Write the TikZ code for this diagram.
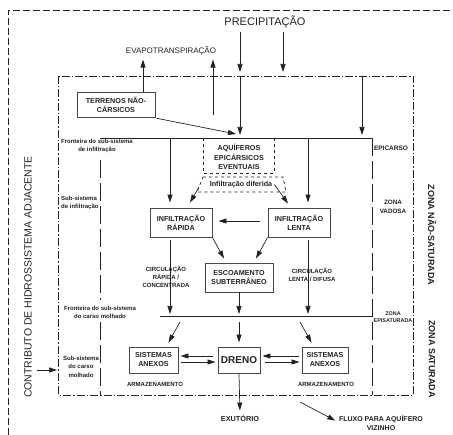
\documentclass[tikz,border=0pt]{standalone}
\usepackage{fontspec}
\setmainfont{Liberation Sans}
\usetikzlibrary{arrows.meta,calc}
\definecolor{cink}{HTML}{222222}
\definecolor{cbox}{HTML}{484848}
\newcommand{\fsz}[2]{\fontsize{#1}{#2}\selectfont}

\begin{document}
\begin{tikzpicture}[x=1pt, y=-1pt,
  lbl/.style={inner sep=0pt, align=center, text=cink, font=\bfseries\fsz{6}{8}},
  box/.style={draw=cbox, line width=0.9pt, inner sep=0pt, align=center, text=cink, font=\bfseries\fsz{7.2}{9}},
  arr/.style={draw=cink, line width=0.7pt, -{Triangle[length=8pt,width=5pt]}},
  solid line/.style={draw=cink, line width=0.7pt},
  dashdot/.style={draw=cink, line width=0.7pt, dash pattern=on 8pt off 2pt on 1.5pt off 2pt},
  longdash/.style={draw=cink, line width=0.7pt, dash pattern=on 18pt off 5pt},
  shortdash/.style={draw=cink, line width=0.7pt, dash pattern=on 7pt off 3pt}]
  \useasboundingbox (0,0) rectangle (453,435);
  % outer system
  \draw[shortdash] (8,435) -- (8,10) -- (453,10);
  % karst system
  \draw[dashdot] (58,76) rectangle (413,395);
  % boundaries
  \coordinate (fiL) at (100,138); \coordinate (fiR) at (372,138);
  \coordinate (cmL) at (160,316); \coordinate (cmR) at (372,316);
  \draw[solid line] (fiL) -- (fiR);
  \draw[solid line] (cmL) -- (cmR);
  \draw[longdash] (100,160) -- (100,300);
  \draw[longdash] (100,322) -- (100,395);
  \draw[longdash] (fiR) -- (372,395);
  % epikarst aquifers
  \draw[dashed, draw=cink, line width=0.7pt] (203,138) -- (203,173) -- (274,173) -- (274,138);
  \coordinate (tz1) at (203,177); \coordinate (tz2) at (283,177);
  \coordinate (tz3) at (286,192); \coordinate (tz4) at (197,192);
  \draw[dashed, draw=cink, line width=0.7pt] (tz1) -- (tz2) -- (tz3) -- (tz4) -- cycle;
  % top labels
  \node[inner sep=0pt, text=cink, font=\fsz{11}{13}] (prec) at (265,22) {PRECIPITAÇÃO};
  \node[inner sep=0pt, text=cink, font=\fsz{8}{10}] (evapo) at (171,51) {EVAPOTRANSPIRAÇÃO};
  % boxes
  \node[box, minimum width=78, minimum height=25] (terr) at (116,104.5) {TERRENOS NÃO-\\CÁRSICOS};
  \node[box, minimum width=62, minimum height=29] (rap) at (181,222.5) {INFILTRAÇÃO\\RÁPIDA};
  \node[box, minimum width=62, minimum height=29] (lenta) at (299,222.5) {INFILTRAÇÃO\\LENTA};
  \node[box, minimum width=68, minimum height=29] (esc) at (239,277.5) {ESCOAMENTO\\SUBTERRÂNEO};
  \node[box, minimum width=49, minimum height=26] (sisL) at (153.5,360) {SISTEMAS\\ANEXOS};
  \node[box, minimum width=42, minimum height=26, font=\bfseries\fsz{10}{12}] (dreno) at (239,360) {DRENO};
  \node[box, minimum width=46, minimum height=26] (sisR) at (325,360) {SISTEMAS\\ANEXOS};
  % labels
  \node[lbl, font=\bfseries\fsz{7.2}{9.2}] (aq) at (239,157) {AQUÍFEROS\\EPICÁRSICOS\\EVENTUAIS};
  \node[lbl, font=\bfseries\fsz{7.2}{9}] (difer) at (241,184.5) {Infiltração diferida};
  \node[lbl] (fi) at (97,146) {Fronteira do sub-sistema\\de infiltração};
  \node[lbl, align=left, anchor=west] (subinf) at (61,203) {Sub-sistema\\de infiltração};
  \node[lbl, font=\bfseries\fsz{6.5}{8}] (epic) at (391,148) {EPICARSO};
  \node[lbl, font=\bfseries\fsz{6.3}{9}] (vad) at (393,206.5) {ZONA\\VADOSA};
  \node[lbl] (circR) at (166,277) {CIRCULAÇÃO\\RÁPIDA /\\CONCENTRADA};
  \node[lbl] (circL) at (312,274.5) {CIRCULAÇÃO\\LENTA / DIFUSA};
  \node[lbl] (cm) at (100,312.5) {Fronteira do sub-sistema\\do carso molhado};
  \node[lbl, font=\bfseries\fsz{5.4}{7}] (episat) at (393,317.5) {ZONA\\EPISATURADA};
  \node[lbl, font=\bfseries\fsz{6}{8.5}] (subcm) at (81,366.5) {Sub-sistema\\do carso\\molhado};
  \node[lbl] (armL) at (155,384) {ARMAZENAMENTO};
  \node[lbl] (armR) at (326,384) {ARMAZENAMENTO};
  \node[lbl, font=\bfseries\fsz{7.3}{9}] (exut) at (240,418) {EXUTÓRIO};
  \node[lbl, font=\bfseries\fsz{7}{9}] (fluxo) at (381,422.5) {FLUXO PARA AQUÍFERO\\VIZINHO};
  \node[inner sep=0pt, text=cink, rotate=90, font=\fsz{10.5}{12}] (contrib) at (28,277) {CONTRIBUTO DE HIDROSSISTEMA ADJACENTE};
  \node[inner sep=0pt, text=cink, rotate=-90, font=\bfseries\fsz{9}{11}] (zns) at (432,235) {ZONA NÃO-SATURADA};
  \node[inner sep=0pt, text=cink, rotate=-90, font=\bfseries\fsz{9}{11}] (zs) at (432,359) {ZONA SATURADA};
  % precipitation and evapotranspiration
  \coordinate (pa) at (240,76); \coordinate (pb) at (283,76); \coordinate (pc) at (362,76);
  \draw[arr, shorten <=4pt, shorten >=4pt] (pa |- prec.south) -- (pa);
  \draw[arr, shorten <=4pt, shorten >=4pt] (pb |- prec.south) -- (pb);
  \draw[arr, shorten >=3pt] (pa) -- (pa |- fiL);
  \draw[arr, shorten >=3pt] (pc) -- (pc |- fiL);
  \coordinate (ev2) at (213,115);
  \draw[arr, shorten >=4pt] ([xshift=27pt]terr.north) -- ([xshift=27pt]terr.north |- evapo.south);
  \draw[arr, shorten >=4pt] (ev2) -- (ev2 |- evapo.south);
  \draw[arr, shorten <=4pt] ([xshift=-3pt]terr.south east) -- (236,134);
  % infiltration
  \draw[arr] ([xshift=-11pt]rap.north |- fiL) -- ([xshift=-11pt,yshift=5pt]rap.north);
  \draw[arr] ([xshift=9pt]lenta.north |- fiL) -- ([xshift=9pt,yshift=5pt]lenta.north);
  \draw[arr] ($(tz1)!0.7!(tz4)$) -- ([xshift=9pt,yshift=5pt]rap.north);
  \draw[arr] ([xshift=2pt]difer.east) -- ([xshift=-11pt,yshift=4pt]lenta.north);
  \draw[arr, shorten <=8pt, shorten >=6pt] ([yshift=1.5pt]lenta.west) -- ([yshift=1.5pt]rap.east);
  \draw[arr] (rap.south east) -- ([xshift=-15pt,yshift=4pt]esc.north);
  \draw[arr] (lenta.south west) -- ([xshift=17pt,yshift=4pt]esc.north);
  % circulation to the wet karst
  \draw[arr, shorten <=3pt, shorten >=2pt] ([xshift=-11pt]rap.south) -- ([xshift=-11pt]rap.south |- cmL);
  \draw[arr, shorten <=3pt, shorten >=2pt] ([xshift=9pt]lenta.south) -- ([xshift=9pt]lenta.south |- cmL);
  \draw[arr, shorten >=2pt] (esc.south) -- (esc.south |- cmL);
  \coordinate (cmA) at (180,322); \coordinate (cmB) at (239,322); \coordinate (cmC) at (300,322);
  \draw[arr] (cmA) -- ([xshift=-10pt,yshift=4pt]sisL.north east);
  \draw[arr] (cmB) -- ([yshift=4pt]dreno.north);
  \draw[arr] (cmC) -- ([xshift=10pt,yshift=4pt]sisR.north west);
  % storage exchanges
  \draw[arr, shorten <=5pt, shorten >=2pt] ([yshift=4pt]dreno.west) -- ([yshift=4pt]sisL.east);
  \draw[arr, shorten <=3pt, shorten >=2pt] ([yshift=-2pt]sisL.east) -- ([yshift=-2pt]dreno.west);
  \draw[arr, shorten <=3pt, shorten >=2pt] ([yshift=4pt]sisR.west) -- ([yshift=4pt]dreno.east);
  \draw[arr, shorten <=5pt, shorten >=2pt] ([yshift=-2pt]dreno.east) -- ([yshift=-2pt]sisR.west);
  % outputs and inputs
  \draw[arr, shorten >=4pt] (dreno.south) -- (exut.north);
  \coordinate (fx0) at (300,402);
  \draw[arr, shorten >=4pt] (fx0) -- (fluxo.west);
  \coordinate (ct0) at (37,370); \coordinate (ct1) at (58,370);
  \draw[arr, shorten >=1pt] (ct0) -- (ct1);
\end{tikzpicture}
\end{document}
